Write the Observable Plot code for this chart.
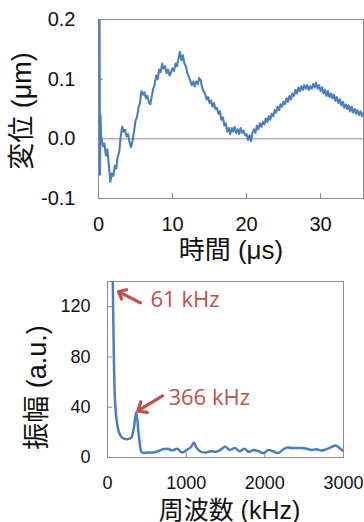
<!DOCTYPE html>
<html>
<head>
<meta charset="utf-8">
<script src="https://cdn.jsdelivr.net/npm/d3@7"></script>
<script src="https://cdn.jsdelivr.net/npm/@observablehq/plot@0.6"></script>
<style>
  html, body { margin: 0; padding: 0; background: #fff; }
  #wrap { position: relative; width: 364px; height: 522px; overflow: hidden; background: #fff; }
  #top, #bottom { position: absolute; left: 0; }
  #top { top: 0; }
  #bottom { top: 262px; }
  svg { overflow: visible; }
</style>
</head>
<body>
<div id="wrap"><div id="top"></div><div id="bottom"></div></div>
<script>
// ---------- Top chart: displacement vs time ----------
const timeTitle = "時間 (μs)";
const dispTitle = "変位 (μm)";
const timeTicks = [0, 10, 20, 30];
const dispTicks = [-0.1, 0.0, 0.1, 0.2];
const dispTickLabels = ["-0.1", "0.0", "0.1", "0.2"];
const timeDomain = [0, 35.8];
const dispDomain = [-0.1, 0.2];

// initial laser-induced spike
const spikeTime = [0.14, 0.2, 0.27, 0.34];
const spikeDisp = [0.22, -0.06, 0.04, 0.008];
// sampled every 0.2 µs from 0.4 µs
const sampleStart = 0.4;
const sampleStep = 0.2;
const displacement = [
  0.000,-0.012,-0.008,-0.028,-0.018,-0.045,-0.072,-0.058,-0.062,-0.045,
  -0.050,-0.030,-0.022,0.004,0.020,0.012,0.015,0.004,0.008,-0.006,
  -0.014,-0.004,0.012,0.030,0.036,0.052,0.060,0.080,0.074,0.078,
  0.068,0.072,0.062,0.058,0.072,0.084,0.092,0.106,0.100,0.116,
  0.112,0.126,0.118,0.122,0.110,0.116,0.106,0.112,0.118,0.114,
  0.126,0.122,0.134,0.146,0.132,0.140,0.126,0.122,0.110,0.104,
  0.098,0.090,0.096,0.088,0.096,0.092,0.102,0.098,0.086,0.080,
  0.076,0.066,0.070,0.060,0.064,0.054,0.060,0.050,0.052,0.042,
  0.046,0.032,0.036,0.022,0.026,0.012,0.018,0.008,0.018,0.012,
  0.020,0.010,0.016,0.008,0.018,0.010,0.014,0.006,0.008,-0.002,
  0.006,-0.004,0.010,0.016,0.010,0.022,0.016,0.026,0.020,0.028,
  0.024,0.034,0.028,0.038,0.032,0.042,0.038,0.048,0.044,0.054,
  0.048,0.058,0.054,0.062,0.058,0.068,0.062,0.072,0.066,0.076,
  0.072,0.082,0.076,0.086,0.080,0.088,0.082,0.090,0.084,0.090,
  0.082,0.088,0.084,0.092,0.086,0.094,0.084,0.090,0.080,0.086,
  0.076,0.082,0.072,0.080,0.070,0.076,0.068,0.074,0.064,0.070,
  0.060,0.066,0.056,0.062,0.052,0.058,0.050,0.056,0.046,0.054,
  0.044,0.050,0.042,0.048,0.040,0.046,0.038,0.044
];

// ---------- Bottom chart: amplitude spectrum ----------
const freqTitle = "周波数 (kHz)";
const ampTitle = "振幅 (a.u.)";
const freqTicks = [0, 1000, 2000, 3000];
const ampTicks = [0, 40, 80, 120];
const freqDomain = [0, 3000];
const ampDomain = [0, 140];
const freqKHz = [61,92,122,153,183,214,244,275,305,336,
  366,397,427,458,519,580,641,702,763,824,
  885,946,1007,1068,1098,1129,1190,1251,1312,1373,
  1434,1495,1556,1617,1678,1739,1800,1861,1922,1983,
  2044,2105,2166,2227,2288,2349,2410,2471,2532,2593,
  2654,2715,2776,2837,2898,2959,2990];
const amplitude = [170,50,27,19,16,15,14.5,15,16,24,
  36,18,5,3.5,4,4,5,6.5,7,5.5,
  7,4,6,9,12,8,4.5,4,5,4.5,
  6,8.5,6,7.5,5,7,4.5,6,5,3.5,
  6,5,3.5,6,8,7.5,7.5,7.5,7,6,
  6.5,5.5,6.5,8,9.5,7,5.5];

// annotations
const noteLabels = ["61 kHz", "366 kHz"];
const noteTextFreq = [547, 775];
const noteTextAmp = [125, 47.5];
const arrowFromFreq = [419, 699];
const arrowFromAmp = [123, 49];
const arrowToFreq = [140, 385];
const arrowToAmp = [132, 37];

// ---------- build tables ----------
const timeSeries = spikeTime.map((t, i) => ({t, v: spikeDisp[i]}))
  .concat(displacement.map((v, i) => ({t: +(sampleStart + i * sampleStep).toFixed(2), v})));
const spectrum = freqKHz.map((f, i) => ({f, a: amplitude[i]}));
const notes = noteLabels.map((label, i) => ({
  label, tx: noteTextFreq[i], ty: noteTextAmp[i],
  x1: arrowFromFreq[i], y1: arrowFromAmp[i], x2: arrowToFreq[i], y2: arrowToAmp[i]
}));

const lineBlue = "#4a7ebf";
const frameGray = "#8c8c8c";
const noteRed = "#c0504d";
const tickFont = "'Liberation Sans', Arial, sans-serif";
const titleFont = "'Liberation Sans', 'Noto Sans CJK JP', sans-serif";

// ---------- top plot ----------
{
  const W = 364, H = 262, mL = 98, mR = 1, mT = 19, mB = 64;
  const innerW = W - mL - mR, innerH = H - mT - mB;
  const chart = Plot.plot({
    width: W, height: H,
    marginLeft: mL, marginRight: mR, marginTop: mT, marginBottom: mB,
    style: {background: "transparent", overflow: "visible"},
    x: {domain: timeDomain},
    y: {domain: dispDomain},
    marks: [
      Plot.ruleY([0], {stroke: frameGray, strokeWidth: 1}),
      Plot.tickX(timeTicks.slice(1), {x: d => d, stroke: frameGray, insetTop: innerH - 5}),
      Plot.tickY(dispTicks, {y: d => d, stroke: frameGray, insetRight: innerW - 5}),
      Plot.frame({stroke: frameGray, strokeWidth: 1}),
      Plot.line(timeSeries, {x: "t", y: "v", stroke: lineBlue, strokeWidth: 2.1, clip: true}),
      Plot.axisX({ticks: timeTicks, tickSize: 0, tickPadding: 18, fontSize: 20,
        fontFamily: tickFont, fill: "#111", label: null}),
      Plot.axisY({ticks: dispTicks, tickSize: 0, tickPadding: 23, fontSize: 20,
        fontFamily: tickFont, fill: "#111", label: null,
        tickFormat: d => dispTickLabels[dispTicks.indexOf(d)]}),
      Plot.text([timeTitle], {text: d => d, frameAnchor: "bottom", lineAnchor: "middle",
        textAnchor: "middle", dy: 52, fontSize: 26, fontFamily: titleFont, fill: "#111"}),
      Plot.text([dispTitle], {text: d => d, frameAnchor: "left", lineAnchor: "middle",
        textAnchor: "middle", dx: -76, dy: 2, rotate: -90,
        fontSize: 27, fontFamily: titleFont, fill: "#111"})
    ]
  });
  document.getElementById("top").appendChild(chart);
}

// ---------- bottom plot ----------
{
  const W = 364, H = 260, mL = 107, mR = 21, mT = 19, mB = 65;
  const innerW = W - mL - mR, innerH = H - mT - mB;
  const chart = Plot.plot({
    width: W, height: H,
    marginLeft: mL, marginRight: mR, marginTop: mT, marginBottom: mB,
    style: {background: "transparent", overflow: "visible"},
    x: {domain: freqDomain},
    y: {domain: ampDomain},
    marks: [
      Plot.tickX(freqTicks.slice(1, 3), {x: d => d, stroke: frameGray, insetTop: innerH - 5}),
      Plot.tickY(ampTicks.slice(1), {y: d => d, stroke: frameGray, insetRight: innerW - 5}),
      Plot.frame({stroke: frameGray, strokeWidth: 1}),
      Plot.line(spectrum, {x: "f", y: "a", stroke: lineBlue, strokeWidth: 2.5, clip: true, curve: "monotone-x"}),
      Plot.arrow(notes, {x1: "x1", y1: "y1", x2: "x2", y2: "y2", stroke: noteRed,
        strokeWidth: 3.2, headLength: 10, headAngle: 80}),
      Plot.text(notes, {x: "tx", y: "ty", text: "label", textAnchor: "start", fill: noteRed,
        fontSize: 22, fontFamily: "'Open Sans', sans-serif"}),
      Plot.axisX({ticks: freqTicks, tickSize: 0, tickPadding: 19, fontSize: 18,
        fontFamily: tickFont, fill: "#111", label: null, tickFormat: d => String(d)}),
      Plot.axisY({ticks: ampTicks, tickSize: 0, tickPadding: 17, fontSize: 18,
        fontFamily: tickFont, fill: "#111", label: null, tickFormat: d => String(d)}),
      Plot.text([freqTitle], {text: d => d, frameAnchor: "bottom", lineAnchor: "middle",
        textAnchor: "middle", dx: 4, dy: 53, fontSize: 25, fontFamily: titleFont, fill: "#111"}),
      Plot.text([ampTitle], {text: d => d, frameAnchor: "left", lineAnchor: "middle",
        textAnchor: "middle", dx: -70, dy: 18, rotate: -90,
        fontSize: 27, fontFamily: titleFont, fill: "#111"})
    ]
  });
  document.getElementById("bottom").appendChild(chart);
}
</script>
</body>
</html>
